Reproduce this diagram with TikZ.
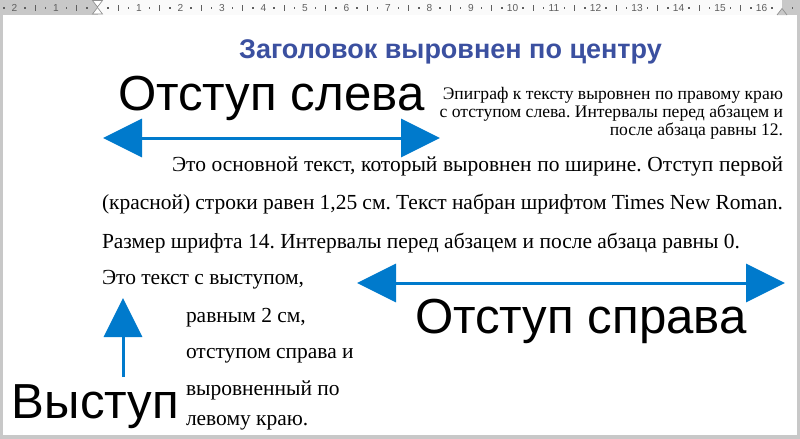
\documentclass[tikz,border=0pt]{standalone}
\usepackage{fontspec}
\setmainfont{Liberation Serif}
\newfontfamily\arialf{Liberation Sans}
\usetikzlibrary{arrows.meta}
\definecolor{arrblue}{RGB}{0,122,204}
\definecolor{titleblue}{RGB}{59,80,160}
\definecolor{rulergrey}{RGB}{200,200,200}
\definecolor{rulertext}{RGB}{95,95,95}
\frenchspacing
\begin{document}
\begin{tikzpicture}[x=0.75pt,y=-0.75pt,
  every node/.style={inner sep=0pt, outer sep=0pt},
  bigsans/.style={font=\arialf\fontsize{36.9}{40}\selectfont, anchor=base west},
  maintext/.style={font=\frenchspacing\fontsize{16.1}{19}\selectfont, anchor=base west},
  epitext/.style={font=\frenchspacing\fontsize{13.2}{15}\selectfont, anchor=base east},
  rulernum/.style={font=\arialf\fontsize{7.6}{9}\selectfont, text=rulertext, anchor=center},
  bluearrow/.style={draw=arrblue, line width=2.25pt, arrows={-Triangle[length=29.25pt, width=28.5pt]}, arrblue},
  bluedarrow/.style={draw=arrblue, line width=2.25pt, arrows={Triangle[length=29.25pt, width=28.5pt]-Triangle[length=29.25pt, width=28.5pt]}, arrblue}]
\useasboundingbox (0,0) rectangle (800,439);
% frame and ruler
\fill[rulergrey] (0,0) rectangle (800,439);
\fill[white] (3,15) rectangle (797,435);
\fill[white!98!black] (97.5,0) rectangle (782,15);
\foreach \k in {-2,-1,1,2,3,4,5,6,7,8,9,10,11,12,13,14,15,16}
  \node[rulernum] (rn\k) at ({97.5+41.5*\k},8) {\pgfmathparse{int(abs(\k))}\pgfmathresult};
\foreach \k in {-2,...,15}
  \draw[rulertext, line width=0.7pt] ({97.5+41.5*(\k+0.5)},5) -- ({97.5+41.5*(\k+0.5)},11);
\foreach \k in {-3,...,16}{
  \fill[rulertext] ({97.5+41.5*(\k+0.25)-0.8},7.2) rectangle ++(1.6,1.6);
  \fill[rulertext] ({97.5+41.5*(\k+0.75)-0.8},7.2) rectangle ++(1.6,1.6);
}
% indent markers
\filldraw[fill=white, draw=rulertext!70, line width=0.5pt] (92.5,0.5) -- (102.5,0.5) -- (97.5,7) -- cycle;
\filldraw[fill=white, draw=rulertext!70, line width=0.5pt] (92.5,14) -- (102.5,14) -- (97.5,7.5) -- cycle;
\filldraw[fill=rulergrey, draw=rulertext!70, line width=0.5pt] (777,15) -- (782,8.5) -- (787,15);
% title
\node[font=\arialf\bfseries\fontsize{20.25}{24}\selectfont, text=titleblue, anchor=base] (title) at (450.5,58) {Заголовок выровнен по центру};
% big labels
\node[bigsans] (lleft) at (118,110) {Отступ слева};
\node[bigsans] (lright) at (415,333) {Отступ справа};
\node[bigsans] (lhang) at (12,418) {Выступ};
% epigraph
\node[epitext] (e1) at (783,99) {Эпиграф к тексту выровнен по правому краю};
\node[epitext] (e2) at (783,117) {с отступом слева. Интервалы перед абзацем и};
\node[epitext] (e3) at (783,135) {после абзаца равны 12.};
% main paragraph
\node[maintext] (p1) at (172,171) {\makebox[458.25pt][s]{Это основной текст, который выровнен по ширине. Отступ первой}};
\node[maintext] (p2) at (102,209.5) {\makebox[510.75pt][s]{(красной) строки равен 1,25 см. Текст набран шрифтом Times New Roman.}};
\node[maintext] (p3) at (102,248) {Размер шрифта 14. Интервалы перед абзацем и после абзаца равны 0.};
% hanging paragraph
\node[maintext] (h1) at (102,284) {Это текст с выступом,};
\node[maintext] (h2) at (186,322) {равным 2 см,};
\node[maintext] (h3) at (186,358) {отступом справа и};
\node[maintext] (h4) at (186,395) {выровненный по};
\node[maintext] (h5) at (186,425) {левому краю.};
% arrows
\coordinate (a1l) at (103,138);
\coordinate (a1r) at (440,138);
\coordinate (a2l) at (357,283);
\coordinate (a2r) at (785,283);
\coordinate (a3b) at (123,377);
\coordinate (a3t) at (123,298);
\draw[bluedarrow] (a1l) -- (a1r);
\draw[bluedarrow] (a2l) -- (a2r);
\draw[bluearrow] (a3b) -- (a3t);
\end{tikzpicture}
\end{document}
